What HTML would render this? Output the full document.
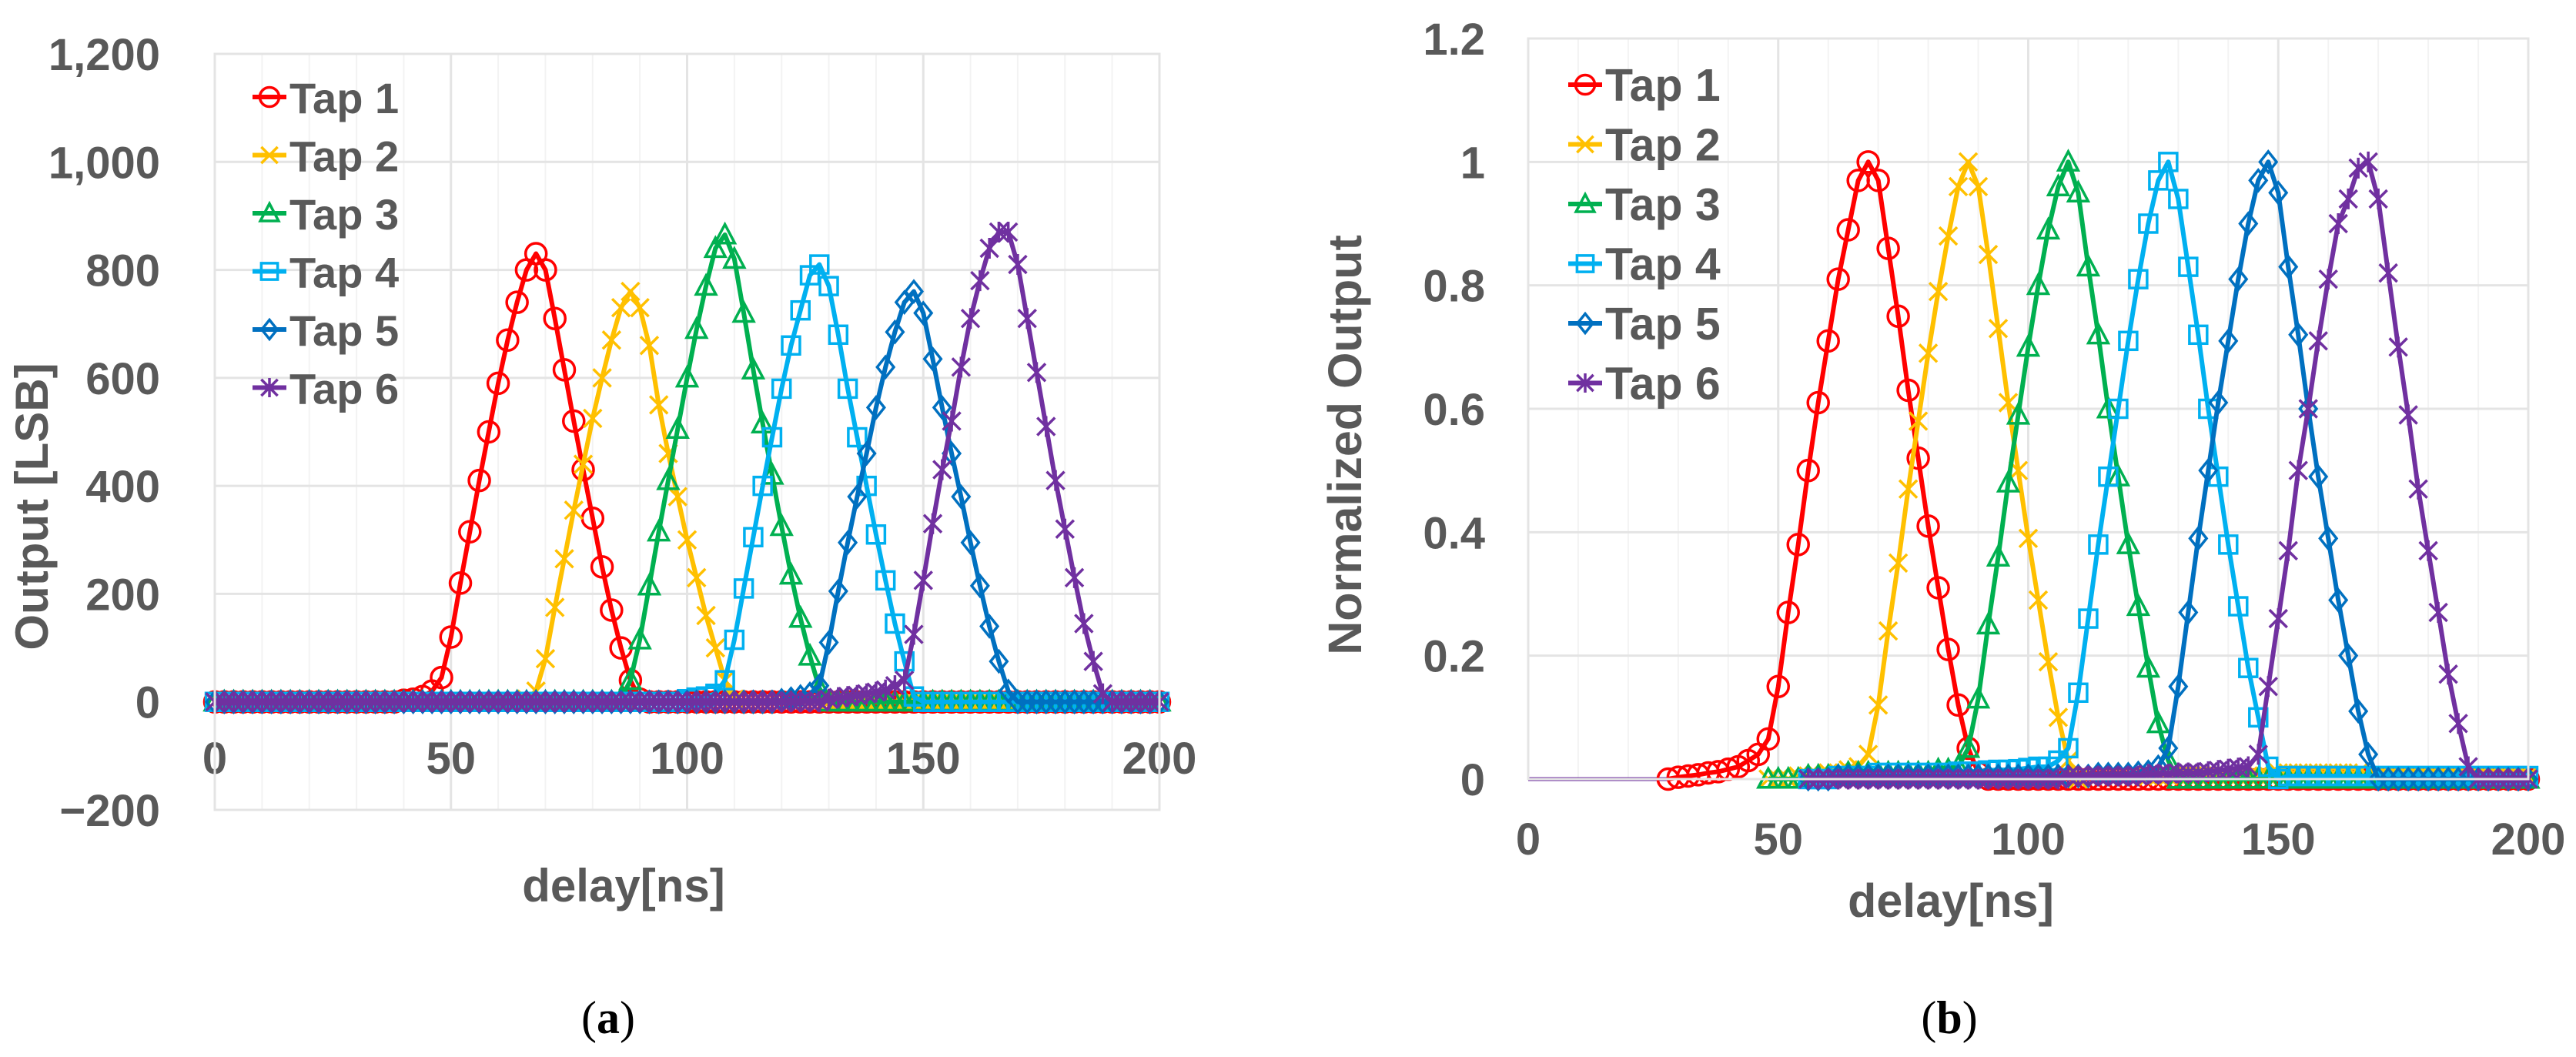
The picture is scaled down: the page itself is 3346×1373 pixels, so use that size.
<!DOCTYPE html>
<html><head><meta charset="utf-8"><style>
html,body{margin:0;padding:0;background:#fff;}
svg{display:block;font-family:"Liberation Sans",sans-serif;}
</style></head><body>
<svg id="fig" width="3346" height="1373" viewBox="0 0 3346 1373" xmlns="http://www.w3.org/2000/svg">
<g id="chartA"></g>
<g id="chartB"></g>
<text x="790" y="1342" font-family="Liberation Serif,serif" font-size="60" text-anchor="middle" fill="#000">(<tspan font-weight="bold">a</tspan>)</text>
<text x="2532" y="1342" font-family="Liberation Serif,serif" font-size="60" text-anchor="middle" fill="#000">(<tspan font-weight="bold">b</tspan>)</text>
</svg>
<script>
const delays = [0,2,4,6,8,10,12,14,16,18,20,22,24,26,28,30,32,34,36,38,40,42,44,46,48,50,52,54,56,58,60,62,64,66,68,70,72,74,76,78,80,82,84,86,88,90,92,94,96,98,100,102,104,106,108,110,112,114,116,118,120,122,124,126,128,130,132,134,136,138,140,142,144,146,148,150,152,154,156,158,160,162,164,166,168,170,172,174,176,178,180,182,184,186,188,190,192,194,196,198,200];
const seriesNames = ["Tap 1","Tap 2","Tap 3","Tap 4","Tap 5","Tap 6"];
const xTicks = [0,50,100,150,200];
const yTicksA = [-200,0,200,400,600,800,1000,1200];
const yTickLabelsA = ["\u2212200","0","200","400","600","800","1,000","1,200"];
const yTicksB = [0,0.2,0.4,0.6,0.8,1,1.2];
const yTickLabelsB = ["0","0.2","0.4","0.6","0.8","1","1.2"];

const tap1A = [0,0,0,0,0,0,0,0,0,0,0,0,0,0,0,0,0,0,0,0,3,5,10,20,45,120,220,315,410,500,590,670,740,800,830,800,710,615,520,430,340,250,170,100,40,5,0,0,0,0,0,0,0,0,0,0,0,0,0,0,0,0,0,0,0,0,0,0,0,0,0,0,0,0,0,0,0,0,0,0,0,0,0,0,0,0,0,0,0,0,0,0,0,0,0,0,0,0,0,0,0];
const tap2A = [0,0,0,0,0,0,0,0,0,0,0,0,0,0,0,0,0,0,0,0,0,0,0,0,0,0,0,0,0,0,0,0,0,5,20,80,175,265,355,440,525,600,670,730,760,730,660,550,460,380,300,230,160,100,40,5,0,0,0,0,0,0,0,0,0,0,0,0,0,0,0,0,0,0,0,0,0,0,0,0,0,0,0,0,0,0,0,0,0,0,0,0,0,0,0,0,0,0,0,0,0];
const tap3A = [0,0,0,0,0,0,0,0,0,0,0,0,0,0,0,0,0,0,0,0,0,0,0,0,0,0,0,0,0,0,0,0,0,0,0,0,0,0,0,0,0,0,0,5,40,115,215,315,410,505,600,690,770,840,865,820,720,615,515,420,325,235,155,85,25,0,0,0,0,0,0,0,0,0,0,0,0,0,0,0,0,0,0,0,0,0,0,0,0,0,0,0,0,0,0,0,0,0,0,0,0];
const tap4A = [0,0,0,0,0,0,0,0,0,0,0,0,0,0,0,0,0,0,0,0,0,0,0,0,0,0,0,0,0,0,0,0,0,0,0,0,0,0,0,0,0,0,0,0,0,0,0,0,0,0,5,8,10,15,40,115,210,305,400,490,580,660,725,790,810,770,680,580,490,400,310,225,145,75,10,0,0,0,0,0,0,0,0,0,0,0,0,0,0,0,0,0,0,0,0,0,0,0,0,0,0];
const tap5A = [0,0,0,0,0,0,0,0,0,0,0,0,0,0,0,0,0,0,0,0,0,0,0,0,0,0,0,0,0,0,0,0,0,0,0,0,0,0,0,0,0,0,0,0,0,0,0,0,0,0,0,0,0,0,0,0,0,0,0,0,3,6,10,15,30,110,205,295,380,460,545,620,685,740,760,720,635,545,460,380,295,215,140,75,20,0,0,0,0,0,0,0,0,0,0,0,0,0,0,0,0];
const tap6A = [0,0,0,0,0,0,0,0,0,0,0,0,0,0,0,0,0,0,0,0,0,0,0,0,0,0,0,0,0,0,0,0,0,0,0,0,0,0,0,0,0,0,0,0,0,0,0,0,0,0,0,0,0,0,0,0,0,0,0,0,0,0,0,0,0,5,8,10,12,15,18,22,30,40,125,225,330,430,520,620,710,780,840,870,870,810,710,610,510,410,320,230,145,75,15,0,0,0,0,0,0];

const tap1B = [null,null,null,null,null,null,null,null,null,null,null,null,null,null,0,0.003,0.005,0.007,0.01,0.012,0.016,0.02,0.03,0.04,0.065,0.15,0.27,0.38,0.5,0.61,0.71,0.81,0.89,0.97,1.0,0.97,0.86,0.75,0.63,0.52,0.41,0.31,0.21,0.12,0.05,0.01,0,0,0,0,0,0,0,0,0,0,0,0,0,0,0,0,0,0,0,0,0,0,0,0,0,0,0,0,0,0,0,0,0,0,0,0,0,0,0,0,0,0,0,0,0,0,0,0,0,0,0,0,0,0,0];
const tap2B = [null,null,null,null,null,null,null,null,null,null,null,null,null,null,null,null,null,null,null,null,null,null,null,null,0,0,0,0.005,0.005,0.005,0.01,0.01,0.015,0.02,0.04,0.12,0.24,0.35,0.47,0.58,0.69,0.79,0.88,0.96,1.0,0.96,0.85,0.73,0.61,0.5,0.39,0.29,0.19,0.1,0.03,0,0.005,0.005,0.005,0.005,0.005,0.005,0.005,0.005,0.005,0.005,0.005,0.005,0.005,0.005,0.005,0.005,0.005,0.005,0.005,0.01,0.01,0.01,0.01,0.01,0.01,0.01,0.01,0.01,0.005,0.005,0.005,0.005,0.005,0.005,0.005,0.005,0.005,0.005,0.005,0.005,0.005,0.005,0.005,0.005,0.005];
const tap3B = [null,null,null,null,null,null,null,null,null,null,null,null,null,null,null,null,null,null,null,null,null,null,null,null,0,0,0,0,0.005,0.005,0.005,0.005,0.01,0.01,0.01,0.01,0.01,0.01,0.01,0.01,0.01,0.015,0.015,0.02,0.05,0.13,0.25,0.36,0.48,0.59,0.7,0.8,0.89,0.96,1.0,0.95,0.83,0.72,0.6,0.49,0.38,0.28,0.18,0.09,0.03,0,0,0,0,0,0,0,0,0,0,0,0,0,0,0,0,0,0,0,0,0,0,0,0,0,0,0,0,0,0,0,0,0,0,0,0];
const tap4B = [null,null,null,null,null,null,null,null,null,null,null,null,null,null,null,null,null,null,null,null,null,null,null,null,null,null,null,null,0,0,0,0.005,0.005,0.005,0.005,0.01,0.01,0.01,0.01,0.01,0.01,0.01,0.01,0.012,0.012,0.012,0.014,0.015,0.015,0.016,0.018,0.02,0.02,0.03,0.05,0.14,0.26,0.38,0.49,0.6,0.71,0.81,0.9,0.97,1.0,0.94,0.83,0.72,0.6,0.49,0.38,0.28,0.18,0.1,0.02,0,0.005,0.005,0.005,0.005,0.005,0.005,0.005,0.005,0.005,0.005,0.005,0.005,0.005,0.005,0.005,0.005,0.005,0.005,0.005,0.005,0.005,0.005,0.005,0.005,0.005];
const tap5B = [null,null,null,null,null,null,null,null,null,null,null,null,null,null,null,null,null,null,null,null,null,null,null,null,null,null,null,null,0,0,0,0.005,0.005,0.005,0.005,0.005,0.005,0.005,0.005,0.005,0.005,0.005,0.005,0.005,0.005,0.005,0.005,0.005,0.005,0.005,0.005,0.005,0.005,0.005,0.005,0.005,0.005,0.008,0.008,0.008,0.008,0.01,0.012,0.02,0.05,0.15,0.27,0.39,0.5,0.61,0.71,0.81,0.9,0.97,1.0,0.95,0.83,0.72,0.6,0.49,0.39,0.29,0.2,0.11,0.04,0,0,0,0,0,0,0,0,0,0,0,0,0,0,0,0];
const tap6B = [null,null,null,null,null,null,null,null,null,null,null,null,null,null,null,null,null,null,null,null,null,null,null,null,null,null,null,null,0,0,0,0,0,0,0,0,0,0,0,0,0,0,0,0,0,0,0,0,0,0,0,0,0,0,0.005,0.005,0.005,0.005,0.005,0.005,0.005,0.005,0.008,0.008,0.008,0.01,0.01,0.01,0.012,0.014,0.016,0.018,0.02,0.04,0.15,0.26,0.37,0.5,0.6,0.71,0.81,0.9,0.94,0.99,1.0,0.94,0.82,0.7,0.59,0.47,0.37,0.27,0.17,0.09,0.02,0,0,0,0,0,0];

const colors = ["#FF0000","#FFC000","#00B050","#00B0F0","#0070C0","#7030A0"];
const markers = ["circle","x","triangle","square","diamond","star"];
const NS = "http://www.w3.org/2000/svg";
function mk(tag, attrs, parent){const e=document.createElementNS(NS,tag);for(const k in attrs)e.setAttribute(k,attrs[k]);parent.appendChild(e);return e;}

function drawMarker(g, type, cx, cy, color, s){
  let e;
  const st = {fill:"none",stroke:color,"stroke-width":3.5};
  if(type==="circle"){e=mk("circle",Object.assign({cx:cx,cy:cy,r:s},st),g);}
  else if(type==="square"){e=mk("rect",Object.assign({x:cx-s*0.85,y:cy-s*0.85,width:s*1.7,height:s*1.7},st),g);}
  else if(type==="triangle"){e=mk("path",Object.assign({d:`M${cx},${cy-s} L${cx+s*0.95},${cy+s*0.8} L${cx-s*0.95},${cy+s*0.8} Z`},st),g);}
  else if(type==="diamond"){e=mk("path",Object.assign({d:`M${cx},${cy-s} L${cx+s*0.8},${cy} L${cx},${cy+s} L${cx-s*0.8},${cy} Z`},st),g);}
  else if(type==="x"){const d=s*0.85;e=mk("path",Object.assign({d:`M${cx-d},${cy-d} L${cx+d},${cy+d} M${cx-d},${cy+d} L${cx+d},${cy-d}`},st),g);}
  else {const d=s*0.85;e=mk("path",Object.assign({d:`M${cx-d},${cy-d} L${cx+d},${cy+d} M${cx-d},${cy+d} L${cx+d},${cy-d} M${cx},${cy-s} L${cx},${cy+s}`},st),g);}
  
  
}

function drawChart(cfg){
  const g = document.getElementById(cfg.id);
  const xs = v => cfg.x0 + (v - 0) / 200 * (cfg.x1 - cfg.x0);
  const ys = v => cfg.yb + (v - cfg.ymin) / (cfg.ymax - cfg.ymin) * (cfg.yt - cfg.yb);
  const grid = mk("g",{},g);
  
  
  for(let v=10; v<200; v+=10){
    if(v%50===0) continue;
    mk("line",{x1:xs(v),x2:xs(v),y1:cfg.yt,y2:cfg.yb,stroke:"#f3f3f3","stroke-width":2},grid);
  }
  xTicks.forEach(v=>mk("line",{x1:xs(v),x2:xs(v),y1:cfg.yt,y2:cfg.yb,stroke:"#e4e4e4","stroke-width":3},grid));
  cfg.yTicks.forEach(v=>mk("line",{x1:cfg.x0,x2:cfg.x1,y1:ys(v),y2:ys(v),stroke:"#e4e4e4","stroke-width":3},grid));
  cfg.yTicks.forEach((v,i)=>{
    const t = mk("text",{x:cfg.yLabX,y:ys(v)+21,"text-anchor":"end","font-size":cfg.fs,"font-weight":"bold",fill:"#595959"},g);
    t.textContent = cfg.yLabels[i];
    
    
  });
  xTicks.forEach(v=>{
    const t = mk("text",{x:xs(v),y:cfg.xLabY+21,"text-anchor":"middle","font-size":cfg.fs,"font-weight":"bold",fill:"#595959"},g);
    t.textContent = String(v);
    
    
  });
  const yt = mk("text",{x:0,y:0,transform:`translate(${cfg.ytX},${cfg.ytY}) rotate(-90)`,"text-anchor":"middle","font-size":cfg.tfs,"font-weight":"bold",fill:"#595959"},g);
  yt.textContent = cfg.yTitle;
  
  
  const xt = mk("text",{x:cfg.xtX,y:cfg.xtY+21,"text-anchor":"middle","font-size":cfg.tfs,"font-weight":"bold",fill:"#595959"},g);
  xt.textContent = "delay[ns]";
  
  
  if(cfg.lead){
    const l = mk("line",{x1:xs(0),x2:xs(28),y1:ys(0),y2:ys(0),stroke:"#7030A0","stroke-width":5},g);
    
    
  }
  cfg.series.forEach((vals,si)=>{
    const sg = mk("g",{},g);
    
    
    let d = "";
    vals.forEach((v,i)=>{ if(v===null) return; d += (d? " L":"M") + xs(delays[i]).toFixed(1) + "," + ys(v).toFixed(1); });
    const p = mk("path",{d:d,fill:"none",stroke:colors[si],"stroke-width":6,"stroke-linejoin":"round"},sg);
    
    
    vals.forEach((v,i)=>{ if(v===null) return; drawMarker(sg, markers[si], xs(delays[i]), ys(v), colors[si], 13.5); });
  });
  const lg = mk("g",{},g);
  
  
  seriesNames.forEach((n,i)=>{
    const y = cfg.legY + i*cfg.legDy;
    const eg = mk("g",{},lg);
    
    
    mk("line",{x1:cfg.legX,x2:cfg.legX+44,y1:y,y2:y,stroke:colors[i],"stroke-width":6},eg);
    drawMarker(eg, markers[i], cfg.legX+22, y, colors[i], 12.5);
    const t = mk("text",{x:cfg.legX+48,y:y+21,"font-size":cfg.lfs,"font-weight":"bold",fill:"#595959"},eg);
    t.textContent = n;
  });
  const b = mk("rect",{x:cfg.x0,y:cfg.yt,width:cfg.x1-cfg.x0,height:cfg.yb-cfg.yt,fill:"none",stroke:"#e4e4e4","stroke-width":3},g);
  
  
}

drawChart({id:"chartA", x0:279, x1:1506, yt:70, yb:1052, ymin:-200, ymax:1200,
  yTicks:yTicksA, yLabels:yTickLabelsA, yLabX:208, xLabY:984, fs:58, tfs:60,
  yTitle:"Output [LSB]", ytX:62, ytY:658, xtX:810, xtY:1150,
  series:[tap1A,tap2A,tap3A,tap4A,tap5A,tap6A], legX:328, legY:126, legDy:75.5, lfs:56, lead:false});
drawChart({id:"chartB", x0:1985, x1:3284, yt:50, yb:1012, ymin:0, ymax:1.2,
  yTicks:yTicksB, yLabels:yTickLabelsB, yLabX:1929, xLabY:1089, fs:58, tfs:61,
  yTitle:"Normalized Output", ytX:1768, ytY:578, xtX:2534, xtY:1170,
  series:[tap1B,tap2B,tap3B,tap4B,tap5B,tap6B], legX:2037, legY:110, legDy:77.5, lfs:59, lead:true});
</script>
</body></html>
